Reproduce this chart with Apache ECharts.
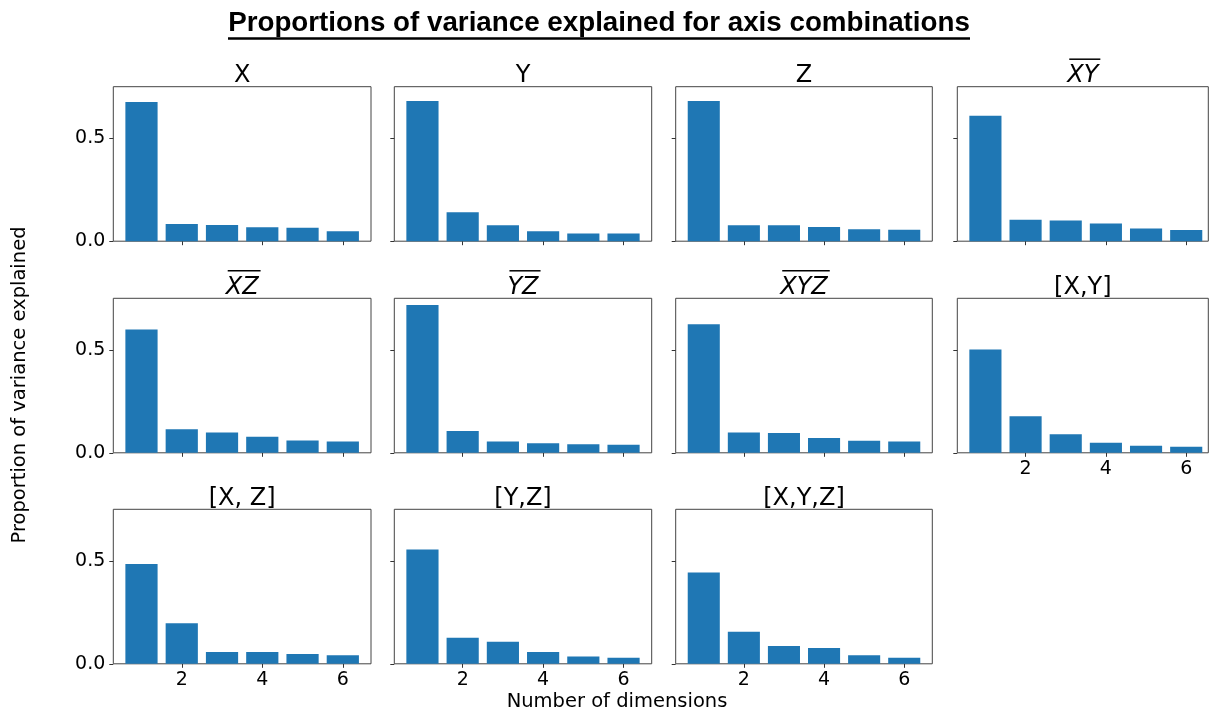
<!DOCTYPE html>
<html><head><meta charset="utf-8">
<script src="https://cdn.jsdelivr.net/npm/echarts@6/dist/echarts.min.js"></script>
<style>html,body{margin:0;padding:0;background:#fff}#c{width:1216px;height:713px}</style>
</head><body><div id="c"></div>
<script>
// ---- data ----
const mainTitle = 'Proportions of variance explained for axis combinations';
const yLabel = 'Proportion of variance explained';
const xLabel = 'Number of dimensions';
const panelTitles = ['X', 'Y', 'Z', 'XY', 'XZ', 'YZ', 'XYZ', '[X,Y]', '[X, Z]', '[Y,Z]', '[X,Y,Z]'];
const panelOverlined = [false, false, false, true, true, true, true, false, false, false, false];
const dims = [1, 2, 3, 4, 5, 6];
const varX      = [0.676, 0.084, 0.079, 0.068, 0.065, 0.048];
const varY      = [0.681, 0.140, 0.077, 0.048, 0.037, 0.037];
const varZ      = [0.681, 0.077, 0.077, 0.069, 0.058, 0.055];
const varXYbar  = [0.609, 0.104, 0.101, 0.086, 0.062, 0.054];
const varXZbar  = [0.598, 0.114, 0.098, 0.078, 0.060, 0.055];
const varYZbar  = [0.718, 0.106, 0.055, 0.046, 0.042, 0.039];
const varXYZbar = [0.624, 0.099, 0.096, 0.072, 0.059, 0.055];
const varXY     = [0.502, 0.178, 0.090, 0.049, 0.034, 0.029];
const varXZ     = [0.485, 0.197, 0.057, 0.057, 0.047, 0.042];
const varYZ     = [0.555, 0.127, 0.107, 0.057, 0.036, 0.029];
const varXYZ    = [0.443, 0.155, 0.086, 0.077, 0.042, 0.029];
const panelValues = [varX, varY, varZ, varXYbar, varXZbar, varYZbar, varXYZbar, varXY, varXZ, varYZ, varXYZ];
const xTicks = [2, 4, 6];
const yTicks = [0, 0.5];

// ---- layout ----
const FONT = 'DejaVu Sans';
const colLeft = [113.3, 394.3, 675.7, 957.3];
const colWidth = [257.7, 257.4, 256.6, 251];
const colXMax = [6.7, 6.7, 6.7, 6.55];
const xMin = 0.3;
const rowTop = [86.7, 298.3, 509.3];
const rowH = 154.5;
const yMax = 0.75;
const xLabelPanels = [7, 8, 9, 10];
const BAR = '#1f77b4';

const mctx = document.createElement('canvas').getContext('2d');
function measure(text, font) { mctx.font = font; return mctx.measureText(text).width; }

const grids = [], xAxes = [], yAxes = [], series = [], graphics = [];
panelValues.forEach((vals, i) => {
  const r = Math.floor(i / 4), c = i % 4;
  const left = colLeft[c], top = rowTop[r], w = colWidth[c];
  grids.push({ left: left, top: top, width: w, height: rowH, show: true, borderColor: '#444', borderWidth: 1,
    backgroundColor: 'transparent', containLabel: false, outerBoundsMode: 'none' });
  xAxes.push({ type: 'value', gridIndex: i, min: xMin, max: colXMax[c],
    axisLine: { show: false }, splitLine: { show: false },
    axisTick: { show: true, customValues: xTicks, length: 4, lineStyle: { color: '#333' } },
    axisLabel: { show: xLabelPanels.indexOf(i) >= 0, customValues: xTicks, margin: 7,
      color: '#000', fontFamily: FONT, fontSize: 19 } });
  yAxes.push({ type: 'value', gridIndex: i, min: 0, max: yMax,
    axisLine: { show: false }, splitLine: { show: false },
    axisTick: { show: true, customValues: yTicks, length: 4, lineStyle: { color: '#333' } },
    axisLabel: { show: c === 0, customValues: yTicks, margin: 8, color: '#000', fontFamily: FONT, fontSize: 19,
      formatter: v => v.toFixed(1) } });
  series.push({ type: 'bar', xAxisIndex: i, yAxisIndex: i, barWidth: '80%',
    data: dims.map((d, k) => [d, vals[k]]),
    itemStyle: { color: BAR }, silent: true, animation: false });
  // panel title
  const cx = left + w / 2;
  const italic = panelOverlined[i];
  const tf = (italic ? 'italic ' : '') + '24px "' + FONT + '"';
  graphics.push({ type: 'text', x: cx, y: top + 1, silent: true,
    style: { text: panelTitles[i], x: 0, y: 0, align: 'center', verticalAlign: 'bottom',
      font: tf, fill: '#000' } });
  if (italic) {
    const tw = measure(panelTitles[i], tf);
    const oy = top - 27.5;
    graphics.push({ type: 'line', silent: true,
      shape: { x1: cx - tw / 2 + 2, y1: oy, x2: cx + tw / 2 + 2, y2: oy },
      style: { stroke: '#000', lineWidth: 1.5 } });
  }
});

// main title fitted to width
const titleFam = '"Liberation Sans Narrow", "Liberation Sans", sans-serif';
const targetW = 742;
const baseW = measure(mainTitle, 'bold 100px ' + titleFam);
const tfs = 100 * targetW / baseW;
graphics.push({ type: 'text', x: 599, y: 9, silent: true,
  style: { text: mainTitle, align: 'center', verticalAlign: 'top', font: 'bold ' + tfs.toFixed(2) + 'px ' + titleFam, fill: '#000' } });
graphics.push({ type: 'line', silent: true, shape: { x1: 599 - targetW / 2, y1: 38.5, x2: 599 + targetW / 2, y2: 38.5 },
  style: { stroke: '#000', lineWidth: 2.5 } });
// axis labels
graphics.push({ type: 'text', x: 20, y: 385, rotation: Math.PI / 2, silent: true,
  style: { text: yLabel, align: 'center', verticalAlign: 'middle', font: '19.5px "' + FONT + '"', fill: '#000' } });
graphics.push({ type: 'text', x: 617, y: 702, silent: true,
  style: { text: xLabel, align: 'center', verticalAlign: 'middle', font: '19.5px "' + FONT + '"', fill: '#000' } });

const chart = echarts.init(document.getElementById('c'), null, { renderer: 'canvas' });
chart.setOption({ animation: false, backgroundColor: '#fff', grid: grids, xAxis: xAxes, yAxis: yAxes, series: series, graphic: graphics });
</script></body></html>
